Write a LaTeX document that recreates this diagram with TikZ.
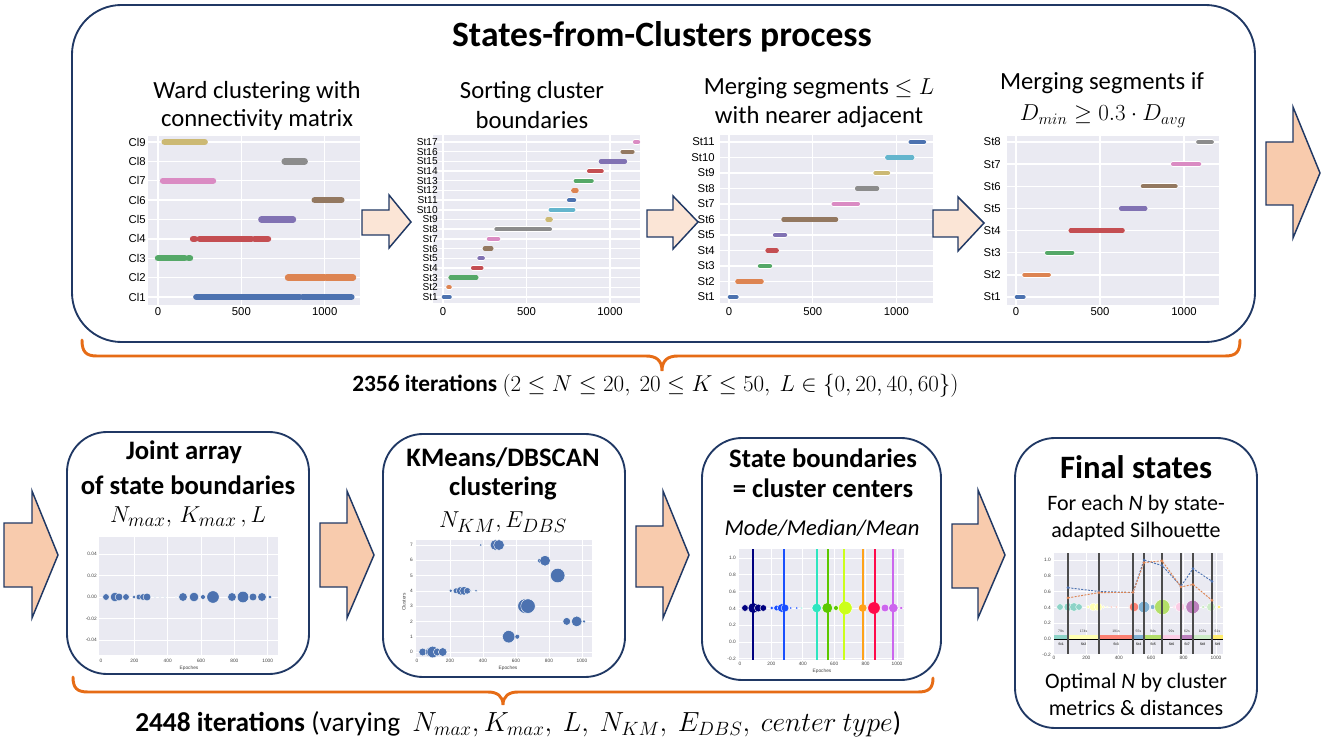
\documentclass[tikz,border=0pt]{standalone}
\usepackage{fontspec}
\setmainfont{Carlito}
\newfontfamily\arialf{Liberation Sans}
\usetikzlibrary{calc}
\newcommand\myfs[1]{\fontsize{#1}{#1}\selectfont}
\definecolor{navy}{HTML}{203864}
\definecolor{arrlight}{HTML}{FBE5D6}
\definecolor{arrdark}{HTML}{F8CBAD}
\definecolor{braceor}{HTML}{E66C16}
\definecolor{plotbg}{HTML}{EAEAF2}
\definecolor{sblue}{HTML}{4C72B0}
\definecolor{sorange}{HTML}{DD8452}
\definecolor{sgreen}{HTML}{55A868}
\definecolor{sred}{HTML}{C44E52}
\definecolor{spurple}{HTML}{8172B3}
\definecolor{sbrown}{HTML}{937860}
\definecolor{spink}{HTML}{DA8BC3}
\definecolor{sgray}{HTML}{8C8C8C}
\definecolor{syellow}{HTML}{CCB974}
\definecolor{scyan}{HTML}{64B5CD}
\definecolor{cnavy}{HTML}{000080}
\definecolor{cblue}{HTML}{1A4FFF}
\definecolor{cteal}{HTML}{2EE6C0}
\definecolor{cgreen}{HTML}{5CC800}
\definecolor{cyg}{HTML}{CCFF1A}
\definecolor{corange}{HTML}{FFA31A}
\definecolor{cred}{HTML}{FF0A4A}
\definecolor{cviolet}{HTML}{CC66EE}
\definecolor{qa}{HTML}{8DD3C7}
\definecolor{qb}{HTML}{FFFFB3}
\definecolor{qc}{HTML}{FB8072}
\definecolor{qd}{HTML}{80B1D3}
\definecolor{qe}{HTML}{B3DE69}
\definecolor{qf}{HTML}{FCCDE5}
\definecolor{qg}{HTML}{BC80BD}
\definecolor{qh}{HTML}{CCEBC5}
\definecolor{qi}{HTML}{FFED6F}
\newcommand\blockarr[9]{\filldraw[blockarrow, fill=#1] (#2,#3) -- (#5,#3) -- (#5,#6) -- (#8,#9) -- (#5,#7) -- (#5,#4) -- (#2,#4) -- cycle;}
\begin{document}
\begin{tikzpicture}[x=0.75pt,y=-0.75pt,
  panel/.style={draw=navy, line width=1.4pt, inner sep=0pt, outer sep=0pt, rounded corners=30pt},
  blockarrow/.style={draw=navy, line width=1.1pt, line join=miter},
  brace/.style={draw=braceor, line width=2.2pt, line cap=round},
  gridw/.style={draw=white, line width=1.1pt},
  gridt/.style={draw=white, line width=0.5pt},
  bar/.style={line width=3.2pt, line cap=round},
  barw/.style={draw=white, line width=4.2pt, line cap=round},
  tick/.style={inner sep=0pt, font=\arialf\myfs{8.5pt}},
  tinytick/.style={inner sep=0pt, font=\arialf\myfs{3.6pt}, text=black!75},
  subt/.style={inner sep=0pt, font=\myfs{18.5pt}},
  btitle/.style={inner sep=0pt, font=\bfseries\myfs{20pt}},
  btext/.style={inner sep=0pt, font=\myfs{16.5pt}},
  dotw/.style={draw=white, line width=0.3pt}]
\useasboundingbox (0,0) rectangle (1325,738);

% ================= TOP PANEL =================
\node[panel, rounded corners=37pt, minimum width=887.25pt, minimum height=252.75pt] (top) at (663.5,173.5) {};
\node[inner sep=0pt, font=\bfseries\myfs{26.7pt}] (title) at (662,37) {States-from-Clusters process};

\node[subt] (s1a) at (257,92) {Ward clustering with};
\node[subt] (s1b) at (257,120) {connectivity matrix};
\node[subt] (s2a) at (532,92) {Sorting cluster};
\node[subt] (s2b) at (532,120) {boundaries};
\node[subt] (s3a) at (819,88) {Merging segments $\leq L$};
\node[subt] (s3b) at (819,117) {with nearer adjacent};
\node[subt] (s4a) at (1102,83) {Merging segments if};
\node[subt] (s4b) at (1103,116) {$D_{min} \geq 0.3\cdot D_{avg}$};

% ---- plot 1
\fill[plotbg] (148,136) rectangle (360,305);
\foreach \dd in {0,500,1000} \draw[gridw] ({158+\dd*0.1667},136) -- ({158+\dd*0.1667},305);
\foreach \ii in {1,...,9} \draw[gridw] (148,{297-(\ii-1)*19.375}) -- (360,{297-(\ii-1)*19.375});
\foreach \rr/\xa/\xb/\cc in {9/40/280/syellow, 8/760/880/sgray, 7/30/330/spink, 6/940/1100/sbrown, 5/620/810/spurple, 4/210/222/sred, 4/250/560/sred, 4/580/660/sred, 3/0/160/sgreen, 3/183/192/sgreen, 2/780/1000/sorange, 2/1012/1170/sorange, 1/230/850/sblue, 1/868/1160/sblue}
  \draw[line width=4.8pt, line cap=round, draw=\cc] ({158+\xa*0.1667},{297-(\rr-1)*19.375}) -- ({158+\xb*0.1667},{297-(\rr-1)*19.375});
\foreach \ii in {1,...,9} \node[tick, anchor=east] (p1l\ii) at (146,{297-(\ii-1)*19.375}) {Cl\ii};
\foreach \dd [count=\k] in {0,500,1000} \node[tick] (p1x\k) at ({158+\dd*0.1667},312) {\dd};

% ---- plot 2
\fill[plotbg] (433,135) rectangle (640,303);
\foreach \dd in {0,500,1000} \draw[gridw] ({443+\dd*0.167},135) -- ({443+\dd*0.167},303);
\foreach \ii in {1,...,17} \draw[gridw] (433,{297-(\ii-1)*9.6875}) -- (640,{297-(\ii-1)*9.6875});
\foreach \rr/\xa/\xb/\cc in {1/5/40/sblue, 2/32/40/sorange, 3/45/200/sgreen, 4/180/230/sred, 5/218/238/spurple, 6/250/290/sbrown, 7/275/330/spink, 8/320/640/sgray, 9/625/645/syellow, 10/645/780/scyan, 11/755/785/sblue, 12/780/800/sorange, 13/795/890/sgreen, 14/875/950/sred, 15/945/1090/spurple, 16/1075/1135/sbrown, 17/1150/1168/spink}
  {\draw[barw] ({443+\xa*0.167},{297-(\rr-1)*9.6875}) -- ({443+\xb*0.167},{297-(\rr-1)*9.6875});
   \draw[bar, draw=\cc] ({443+\xa*0.167},{297-(\rr-1)*9.6875}) -- ({443+\xb*0.167},{297-(\rr-1)*9.6875});}
\foreach \ii in {1,...,17} \node[tick, font=\arialf\myfs{7.6pt}, anchor=east] (p2l\ii) at (438,{297-(\ii-1)*9.6875}) {St\ii};
\foreach \dd [count=\k] in {0,500,1000} \node[tick] (p2x\k) at ({443+\dd*0.167},312) {\dd};

% ---- plot 3
\fill[plotbg] (720,135) rectangle (933,303);
\foreach \dd in {0,500,1000} \draw[gridw] ({729+\dd*0.1674},135) -- ({729+\dd*0.1674},303);
\foreach \ii in {1,...,11} \draw[gridw] (720,{297-(\ii-1)*15.5}) -- (933,{297-(\ii-1)*15.5});
\foreach \rr/\xa/\xb/\cc in {1/5/45/sblue, 2/50/195/sorange, 3/185/245/sgreen, 4/230/285/sred, 5/275/335/spurple, 6/325/640/sbrown, 7/625/770/spink, 8/765/885/sgray, 9/875/950/syellow, 10/945/1095/scyan, 11/1085/1165/sblue}
  {\draw[barw] ({729+\xa*0.1674},{297-(\rr-1)*15.5}) -- ({729+\xb*0.1674},{297-(\rr-1)*15.5});
   \draw[bar, draw=\cc] ({729+\xa*0.1674},{297-(\rr-1)*15.5}) -- ({729+\xb*0.1674},{297-(\rr-1)*15.5});}
\foreach \ii in {1,...,11} \node[tick, anchor=east] (p3l\ii) at (715,{297-(\ii-1)*15.5}) {St\ii};
\foreach \dd [count=\k] in {0,500,1000} \node[tick] (p3x\k) at ({729+\dd*0.1674},312) {\dd};

% ---- plot 4
\fill[plotbg] (1007,136) rectangle (1219,305);
\foreach \dd in {0,500,1000} \draw[gridw] ({1016+\dd*0.168},136) -- ({1016+\dd*0.168},305);
\foreach \ii in {1,...,8} \draw[gridw] (1007,{297-(\ii-1)*22.143}) -- (1219,{297-(\ii-1)*22.143});
\foreach \rr/\xa/\xb/\cc in {1/5/45/sblue, 2/50/195/sorange, 3/185/335/sgreen, 4/325/635/sred, 5/625/770/spurple, 6/755/950/sbrown, 7/935/1090/spink, 8/1085/1165/sgray}
  {\draw[barw] ({1016+\xa*0.168},{297-(\rr-1)*22.143}) -- ({1016+\xb*0.168},{297-(\rr-1)*22.143});
   \draw[bar, draw=\cc] ({1016+\xa*0.168},{297-(\rr-1)*22.143}) -- ({1016+\xb*0.168},{297-(\rr-1)*22.143});}
\foreach \ii in {1,...,8} \node[tick, anchor=east] (p4l\ii) at (1001,{297-(\ii-1)*22.143}) {St\ii};
\foreach \dd [count=\k] in {0,500,1000} \node[tick] (p4x\k) at ({1016+\dd*0.168},312) {\dd};

% ---- arrows top
\blockarr{arrlight}{362}{210}{235}{389}{195}{248}{411}{222}
\blockarr{arrlight}{647}{210}{237}{673}{196}{249}{698}{222}
\blockarr{arrlight}{933}{210}{237}{958}{197}{251}{984}{223}
\blockarr{arrdark}{1266}{142}{205}{1293}{107}{238}{1320}{173}

% ---- brace top
\draw[brace] (82,340) .. controls (82,352) and (86,356) .. (97,356) -- (646,356) .. controls (656,356) and (662,360) .. (662,371) .. controls (662,360) and (668,356) .. (678,356) -- (1225,356) .. controls (1236,356) and (1240,352) .. (1240,340);
\node[inner sep=0pt, anchor=base west, font=\myfs{17.5pt}] (it1) at (352,391) {\textbf{2356 iterations} $(2\leq N\leq 20,\ 20\leq K\leq 50,\ L\in\{0,20,40,60\})$};

% ================= BOTTOM ROW =================
\blockarr{arrdark}{4}{523}{587}{32}{491}{618}{58}{555}
\blockarr{arrdark}{320}{523}{587}{347}{491}{618}{374}{555}
\blockarr{arrdark}{636}{526}{587}{663}{491}{618}{689}{555}
\blockarr{arrdark}{952}{524}{588}{978}{490}{618}{1005}{555}

% ---- box 1
\node[panel, minimum width=181.5pt, minimum height=181.5pt] (b1) at (188,553) {};
\node[btitle] (b1a) at (184,452) {Joint array};
\node[btitle] (b1b) at (188,485) {of state boundaries};
\node[inner sep=0pt, font=\myfs{19pt}] (b1c) at (188,517) {$N_{max},\, K_{max}\,, L$};
\fill[plotbg] (99,537) rectangle (278,655);
\foreach \dd in {200,400,600,800,1000} \draw[gridt] ({101+\dd*0.1667},537) -- ({101+\dd*0.1667},655);
\foreach \vv/\yy [count=\k] in {0.04/554, 0.02/575.5, 0.00/597, -0.02/618.5, -0.04/640}
  {\draw[gridt] (99,\yy) -- (278,\yy); \node[tinytick, anchor=east] (b1y\k) at (97,\yy) {\vv};}
\foreach \dd [count=\k] in {0,200,400,600,800,1000} \node[tinytick] (b1x\k) at ({101+\dd*0.1667},661) {\dd};
\node[tinytick] (b1e) at (189,668) {Epoches};
\foreach \xx/\rr in {106/2.3, 115/3.3, 119/2.7, 126/2.3, 134/1.3, 139/2, 143/2.3, 147/2.7, 155/0.7, 160/0.7, 165/0.7, 176/0.5, 183/3, 194/3.3, 203/1.7, 213/4.3, 232/3, 243/4, 253/2.7, 262/3, 270/1.3}
  \filldraw[fill=sblue, dotw] (\xx,597) circle[radius={\rr*1.45*0.75pt}];

% ---- box 2
\node[panel, minimum width=181.5pt, minimum height=182.25pt] (b2) at (504,555.5) {};
\node[btitle] (b2a) at (503,458) {KMeans/DBSCAN};
\node[btitle] (b2b) at (503,488) {clustering};
\node[inner sep=0pt, font=\myfs{19pt}] (b2c) at (503,522) {$N_{KM}, E_{DBS}$};
\fill[plotbg] (416,540) rectangle (592,657);
\foreach \dd in {200,400,600,800,1000} \draw[gridt] ({417+\dd*0.165},540) -- ({417+\dd*0.165},657);
\foreach \ii in {0,...,7} {\draw[gridt] (416,{652-\ii*15.29}) -- (592,{652-\ii*15.29}); \node[tinytick, anchor=east] (b2y\ii) at (413,{652-\ii*15.29}) {\ii};}
\foreach \dd [count=\k] in {0,200,400,600,800,1000} \node[tinytick] (b2x\k) at ({417+\dd*0.165},661) {\dd};
\node[tinytick] (b2e) at (508,668) {Epoches};
\node[tinytick, rotate=90] (b2cl) at (404,602) {Clusters};
\foreach \xx/\yy/\rr in {480.7/545/1, 491/545/0.7, 495.5/545/3.7, 499/545/3.7, 540/560.7/1.7, 545/560.7/3.7, 557.7/575.5/5,
  450.7/590.8/1.3, 456/590.8/2, 460.7/590.8/3, 464/590.8/3, 467.3/590.8/2.3, 470.7/590.8/0.7, 476/590.8/1,
  525/606.1/5, 528/606.1/5, 566.7/621.4/2.7, 576.7/621.4/3.7, 584/621.4/1.3, 508.7/636.7/4.3, 517.3/636.7/1.7,
  422.7/652/2.7, 430/652/3.3, 432.7/652/4, 437.3/652/2.7, 442.7/652/3}
  \filldraw[fill=sblue, dotw] (\xx,\yy) circle[radius={\rr*1.45*0.75pt}];

% ---- box 3
\node[panel, minimum width=179.25pt, minimum height=181.5pt] (b3) at (821.5,559) {};
\node[btitle] (b3a) at (823,458) {State boundaries};
\node[btitle] (b3b) at (823,488) {= cluster centers};
\node[inner sep=0pt, font=\itshape\myfs{17pt}] (b3c) at (822,528) {Mode/Median/Mean};
\fill[plotbg] (739,549) rectangle (904,660);
\foreach \dd in {200,400,600,800,1000} \draw[gridt] ({740+\dd*0.157},549) -- ({740+\dd*0.157},660);
\foreach \vv [count=\k] in {-0.2,0.0,0.2,0.4,0.6,0.8,1.0}
  {\draw[gridt] (739,{642-\vv*84}) -- (904,{642-\vv*84}); \node[tinytick, anchor=east] (b3y\k) at (736,{642-\vv*84}) {\vv};}
\foreach \dd [count=\k] in {0,200,400,600,800,1000} \node[tinytick] (b3x\k) at ({740+\dd*0.157},664) {\dd};
\node[tinytick] (b3e) at (822,671) {Epoches};
\foreach \xx/\rr/\cc in {745/2.3/cnavy, 753.3/3.7/cnavy, 758.3/2.7/cnavy, 763.3/2.3/cnavy, 771.7/1.3/cblue, 776.7/2/cblue, 781.7/3/cblue, 785/2.7/cblue, 790.7/1/cblue, 796.7/1/cblue, 801.7/0.7/cteal, 811/0.5/cteal, 816.7/3.3/cteal, 827.3/3.7/cgreen, 836/1.7/cgreen, 845.3/4.7/cyg, 862.7/3/corange, 874/4.3/cred, 885/2.7/cviolet, 893.3/3.3/cviolet, 901.3/1.3/cviolet}
  \filldraw[fill=\cc, dotw] (\xx,608) circle[radius={\rr*1.45*0.75pt}];
\foreach \xx/\cc in {753/cnavy, 784/cblue, 817/cteal, 828/cgreen, 844/cyg, 863/corange, 875/cred, 893/cviolet}
  \draw[draw=\cc, line width=1.1pt] (\xx,549) -- (\xx,660);

% ---- box 4
\node[panel, minimum width=181.5pt, minimum height=217.5pt] (b4) at (1136,583) {};
\node[inner sep=0pt, font=\bfseries\myfs{24.5pt}] (b4a) at (1136,467) {Final states};
\node[btext] (b4b) at (1136,505) {For each \textit{N} by state-};
\node[btext] (b4c) at (1136,532) {adapted Silhouette};
\node[btext] (b4d) at (1136,683) {Optimal \textit{N} by cluster};
\node[btext] (b4e) at (1136,708) {metrics \& distances};
\fill[plotbg] (1054,553) rectangle (1223,654);
\foreach \dd in {200,400,600,800,1000} \draw[gridt] ({1054+\dd*0.162},553) -- ({1054+\dd*0.162},654);
\foreach \vv [count=\k] in {-0.2,0.0,0.2,0.4,0.6,0.8,1.0}
  {\draw[gridt] (1054,{639-\vv*79}) -- (1223,{639-\vv*79}); \node[tinytick, anchor=east] (b4y\k) at (1051,{639-\vv*79}) {\vv};}
\foreach \dd [count=\k] in {0,200,400,600,800,1000} \node[tinytick] (b4x\k) at ({1054+\dd*0.162},658) {\dd};
\foreach \xx/\rr/\cc in {1060/2.3/qa, 1068.3/3/qa, 1074/3/qa, 1079/2.3/qa, 1088.3/1.3/qb, 1093.3/2.7/qb, 1098.3/2.7/qb, 1103.3/1/qb, 1107.3/0.7/qb, 1111.7/0.7/qc, 1116.7/0.7/qc, 1130/1/qc, 1134/3.3/qc, 1144/4/qd, 1152.7/1.7/qd, 1162.3/5.3/qe, 1174/1/qf, 1180/3.3/qf, 1192.7/4.7/qg, 1203.3/1.3/qh, 1211/3/qh, 1219/1.3/qi}
  \filldraw[fill=\cc, dotw] (\xx,607) circle[radius={\rr*1.45*0.75pt}];
\foreach \xa/\xb/\cc/\tq/\sq [count=\k] in {1054/1068/qa/79s/St1, 1068/1099/qb/174s/St2, 1099/1133/qc/191s/St3, 1133/1144/qd/55s/St4, 1144/1162/qe/94s/St5, 1162/1181/qf/99s/St6, 1181/1193/qg/62s/St7, 1193/1212/qh/103s/St8, 1212/1223/qi/61s/St9}
  {\fill[\cc] (\xa,634.5) rectangle (\xb,639);
   \node[tinytick, font=\arialf\myfs{2.6pt}] (b4t\k) at ({(\xa+\xb)/2},631) {\tq};
   \node[tinytick, font=\arialf\bfseries\myfs{2.6pt}] (b4s\k) at ({(\xa+\xb)/2},644) {\sq};}
\draw[black, line width=0.5pt] (1054,639.3) -- (1223,639.3);
\foreach \xx in {1068, 1099, 1133, 1144, 1162, 1181, 1193, 1212}
  \draw[black!70, line width=1pt] (\xx,553) -- (\xx,654);
\draw[sblue, line width=0.7pt, dash pattern=on 1.5pt off 1pt] (1068,587.7) -- (1099,591.5) -- (1133,592.4) -- (1144,560) -- (1162,565.5) -- (1181,586.1) -- (1193,568.7) -- (1212,581.3);
\draw[sorange, line width=0.7pt, dash pattern=on 1.5pt off 1pt] (1068,597.9) -- (1099,592.6) -- (1133,592.4) -- (1144,562.6) -- (1162,560.8) -- (1181,586.9) -- (1193,584.5) -- (1212,600.3);
\foreach \xx/\yy in {1068/587.7, 1099/591.5, 1133/592.4, 1144/560, 1162/565.5, 1181/586.1, 1193/568.7, 1212/581.3}
  \fill[sblue] (\xx,\yy) circle[radius=1.1pt];
\foreach \xx/\yy in {1068/597.9, 1099/592.6, 1133/592.4, 1144/562.6, 1162/560.8, 1181/586.9, 1193/584.5, 1212/600.3}
  \fill[sorange] (\xx,\yy) circle[radius=1.1pt];

% ---- brace bottom
\draw[brace] (73,677) .. controls (73,688) and (77,692) .. (88,692) -- (488,692) .. controls (497,692) and (503,696) .. (503,705) .. controls (503,696) and (509,692) .. (518,692) -- (918,692) .. controls (929,692) and (933,688) .. (933,678);
\node[inner sep=0pt, anchor=base west, font=\myfs{20.5pt}] (it2) at (135,731) {\textbf{2448 iterations} (varying\ \ $N_{max}, K_{max},\ L,\ N_{KM},\ E_{DBS},\ center\ type$)};
\end{tikzpicture}
\end{document}
